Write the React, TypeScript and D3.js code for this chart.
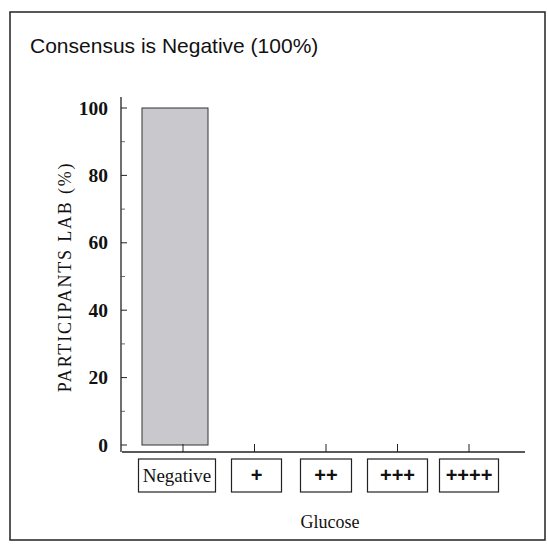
import React from "react";
import * as d3 from "d3";

const categories = ["Negative", "+", "++", "+++", "++++"];
const values = [100, 0, 0, 0, 0];
const yTicks = [0, 20, 40, 60, 80, 100];
const yMinorTicks = [10, 30, 50, 70, 90];
const title = "Consensus is Negative (100%)";
const yLabel = "PARTICIPANTS LAB (%)";
const xLabel = "Glucose";

export default function App() {
  const W = 548, H = 548;
  const x = d3.scalePoint<string>().domain(categories).range([183, 469]);
  const y = d3.scaleLinear().domain([0, 100]).range([445, 108]);
  const barW = 66;
  const barOffset = -8;
  const boxW = [77, 50, 51, 60, 59];
  const boxShift = [-6, 2, 0, 0, 0];
  const serif = "'Liberation Serif', 'DejaVu Serif', serif";
  const sans = "'Liberation Sans', Arial, sans-serif";

  return (
    <svg width={W} height={H} style={{ position: "absolute", left: 0, top: 0, background: "#fff" }}>
      <rect x={0} y={0} width={W} height={H} fill="#fff" />
      {/* frame */}
      <rect x={10} y={12} width={535} height={528} fill="none" stroke="#222" strokeWidth={1.5} />
      <text x={30} y={53} fontFamily={sans} fontSize={21} fill="#111">{title}</text>

      {/* bars */}
      {categories.map((c, i) =>
        values[i] > 0 ? (
          <rect
            key={c}
            x={(x(c) as number) + barOffset - barW / 2}
            y={y(values[i])}
            width={barW}
            height={y(0) - y(values[i])}
            fill="#c9c8cd"
            stroke="#333"
            strokeWidth={1}
          />
        ) : null
      )}

      {/* y axis */}
      <line x1={121} x2={121} y1={97} y2={452} stroke="#222" strokeWidth={1.3} />
      {yTicks.map((t) => (
        <g key={t}>
          <line x1={121} x2={127} y1={y(t)} y2={y(t)} stroke="#222" strokeWidth={1} />
          <text x={108} y={y(t) + 6.5} textAnchor="end" fontFamily={serif} fontWeight={700} fontSize={19.5} fill="#111">{t}</text>
        </g>
      ))}
      {yMinorTicks.map((t) => (
        <line key={t} x1={121} x2={125} y1={y(t)} y2={y(t)} stroke="#444" strokeWidth={0.8} />
      ))}
      <text
        transform={`translate(71, 277) rotate(-90)`}
        textAnchor="middle"
        fontFamily={serif}
        fontSize={18}
        letterSpacing={1.8}
        fill="#111"
      >
        {yLabel}
      </text>

      {/* x axis */}
      <line x1={122} x2={525} y1={452} y2={452} stroke="#222" strokeWidth={1.3} />
      {categories.map((c, i) => {
        const cx = x(c) as number;
        return (
          <g key={c}>
            <line x1={cx} x2={cx} y1={452} y2={444} stroke="#222" strokeWidth={1} />
            <rect x={cx - boxW[i] / 2 + boxShift[i]} y={459} width={boxW[i]} height={33} fill="#fff" stroke="#222" strokeWidth={1.2} />
            <text
              x={cx + boxShift[i]}
              y={482}
              textAnchor="middle"
              fontFamily={i === 0 ? serif : sans}
              fontSize={i === 0 ? 19 : 20}
              fontWeight={i === 0 ? 400 : 700}
              fill="#111"
            >
              {c}
            </text>
          </g>
        );
      })}
      <text x={330} y={528} textAnchor="middle" fontFamily={serif} fontSize={18} fill="#111">{xLabel}</text>
    </svg>
  );
}
